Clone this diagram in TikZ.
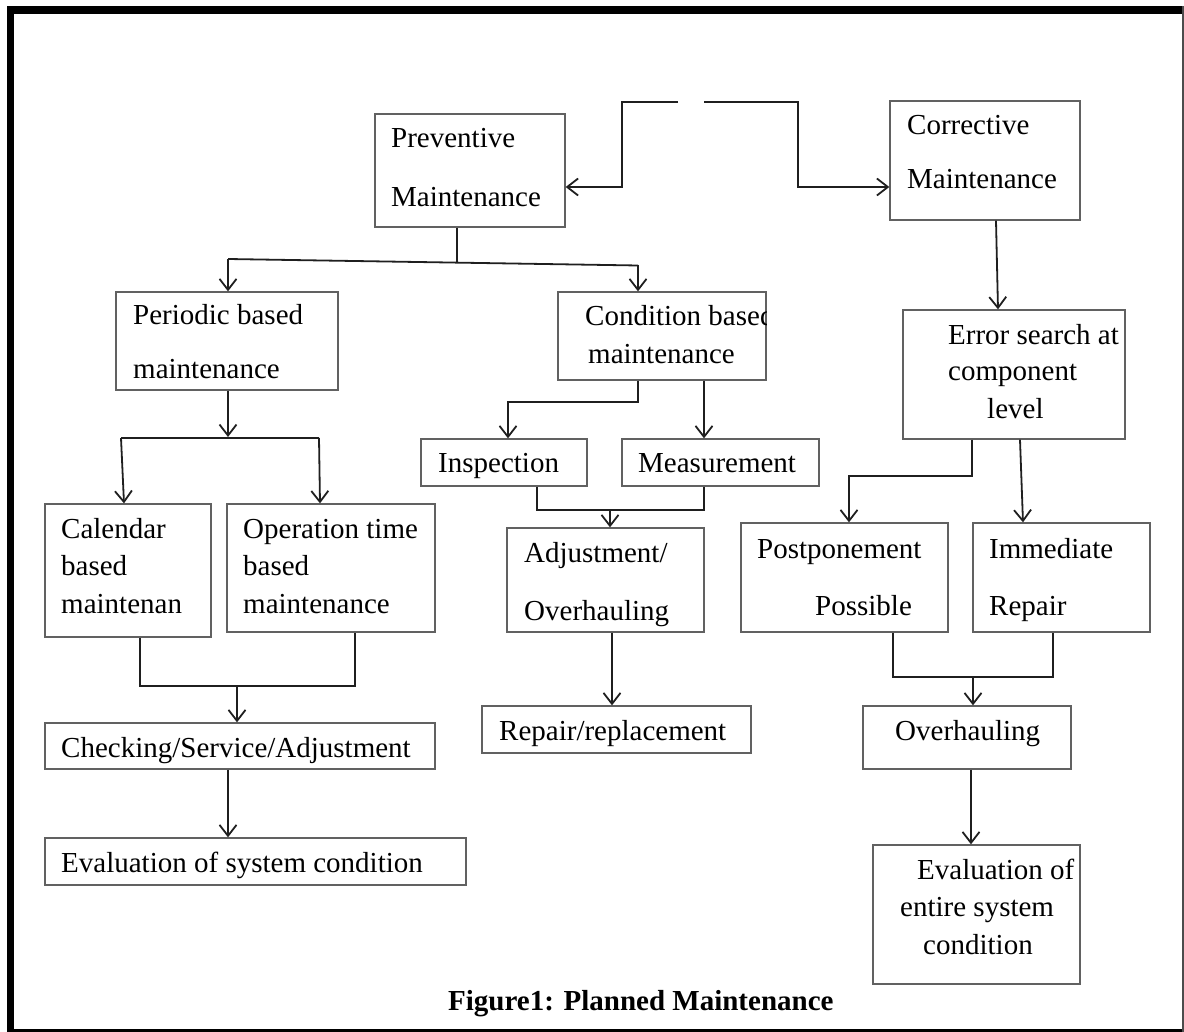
\documentclass[tikz,border=0pt]{standalone}
\usepackage{fontspec}
\setmainfont{Liberation Serif}
\usetikzlibrary{arrows.meta,fit}
\tikzset{
  box/.style={draw=black!62,line width=1.3pt,inner sep=0pt,rectangle},
  txt/.style={anchor=base west,inner sep=0pt,font=\fontsize{29}{34}\selectfont},
  conn/.style={draw=black!88,line width=1.8pt},
  arr/.style={conn,-{Straight Barb[length=11pt,width=17pt]}},
}
\begin{document}
\begin{tikzpicture}[x=1pt,y=-1pt]
\useasboundingbox (0,0) rectangle (1184,1032);
% frame
\fill[black] (7,6) rectangle (1184,14);
\fill[black] (7,6) rectangle (14,1032);
\fill[black] (7,1029) rectangle (1184,1032);
\fill[black!70] (1181.5,6) rectangle (1184,1032);
% boxes
\node[box,fit={(375,114) (565,227)}] (prev) {};
\node[box,fit={(890,101) (1080,220)}] (corr) {};
\node[box,fit={(903,310) (1125,439)}] (err) {};
\node[box,fit={(116,292) (338,390)}] (per) {};
\node[box,fit={(558,292) (766,380)}] (cond) {};
\node[box,fit={(45,504) (211,637)}] (cal) {};
\node[box,fit={(227,504) (435,632)}] (opt) {};
\node[box,fit={(45,723) (435,769)}] (chk) {};
\node[box,fit={(45,838) (466,885)}] (evs) {};
\node[box,fit={(421,439) (587,486)}] (insp) {};
\node[box,fit={(622,439) (819,486)}] (meas) {};
\node[box,fit={(507,528) (704,632)}] (adj) {};
\node[box,fit={(482,706) (751,753)}] (rep) {};
\node[box,fit={(741,523) (948,632)}] (post) {};
\node[box,fit={(973,523) (1150,632)}] (imm) {};
\node[box,fit={(863,706) (1071,769)}] (ovh) {};
\node[box,fit={(873,845) (1080,984)}] (eve) {};
% texts
\node[txt] (prev1) at (391,148) {Preventive};
\node[txt] (prev2) at (391,207) {Maintenance};
\node[txt] (corr1) at (907,135) {Corrective};
\node[txt] (corr2) at (907,189) {Maintenance};
\node[txt] (err1) at (948,345) {Error search at};
\node[txt] (err2) at (948,381) {component};
\node[txt] (err3) at (987,418) {level};
\node[txt] (per1) at (133,325) {Periodic based};
\node[txt] (per2) at (133,379) {maintenance};
\begin{scope}
\clip (558,292) rectangle (766,380);
\node[txt] (cond1) at (585,326) {Condition based};
\end{scope}
\node[txt] (cond2) at (588,363) {maintenance};
\node[txt] (cal1) at (61,538) {Calendar};
\node[txt] (cal2) at (61,575) {based};
\node[txt] (cal3) at (61,613) {maintenan};
\node[txt] (opt1) at (243,538) {Operation time};
\node[txt] (opt2) at (243,575) {based};
\node[txt] (opt3) at (243,613) {maintenance};
\node[txt] (chk1) at (61,757) {Checking/Service/Adjustment};
\node[txt] (evs1) at (61,872) {Evaluation of system condition};
\node[txt] (insp1) at (438,472) {Inspection};
\node[txt] (meas1) at (638,472) {Measurement};
\node[txt] (adj1) at (524,562) {Adjustment/};
\node[txt] (adj2) at (524,620) {Overhauling};
\node[txt] (rep1) at (499,740) {Repair/replacement};
\node[txt] (post1) at (757,558) {Postponement};
\node[txt] (post2) at (815,615) {Possible};
\node[txt] (imm1) at (989,558) {Immediate};
\node[txt] (imm2) at (989,615) {Repair};
\node[txt] (ovh1) at (895,740) {Overhauling};
\node[txt] (eve1) at (917,879) {Evaluation of};
\node[txt] (eve2) at (900,916) {entire system};
\node[txt] (eve3) at (923,954) {condition};
\node[txt,font=\fontsize{29}{34}\selectfont\bfseries] (cap) at (448,1010) {Figure1: Planned Maintenance};
% connectors
\coordinate (tl) at (678,102);
\coordinate (tr) at (704,102);
\draw[arr] (tl) -- (622,102) -- (622,187) -- (prev.east |- 0,187);
\draw[arr] (tr) -- (798,102) -- (798,187) -- (corr.west |- 0,187);
\draw[arr] (corr.south -| 996,0) -- (err.north -| 998,0);
\coordinate (pl) at (228,259);
\coordinate (pr) at (638,265.5);
\draw[conn] (prev.south -| 457,0) -- (457,262);
\draw[conn] (pl) -- (pr);
\draw[arr] (pl) -- (per.north -| pl);
\draw[arr] (pr) -- (cond.north -| pr);
\draw[arr] (per.south -| 228,0) -- (228,437);
\coordinate (ql) at (121,438);
\coordinate (qr) at (319,438);
\draw[conn] (ql) -- (qr);
\draw[arr] (ql) -- (cal.north -| 124,0);
\draw[arr] (qr) -- (opt.north -| 320,0);
\draw[conn] (cal.south -| 140,0) -- (140,686) -- (355,686) -- (opt.south -| 355,0);
\draw[arr] (237,686) -- (chk.north -| 237,0);
\draw[arr] (chk.south -| 228,0) -- (evs.north -| 228,0);
\draw[arr] (cond.south -| 638,0) -- (638,402) -- (508,402) -- (insp.north -| 508,0);
\draw[arr] (cond.south -| 704,0) -- (meas.north -| 704,0);
\draw[conn] (insp.south -| 537,0) -- (537,510) -- (704,510) -- (meas.south -| 704,0);
\draw[arr] (610,510) -- (adj.north -| 610,0);
\draw[arr] (adj.south -| 612,0) -- (rep.north -| 612,0);
\draw[arr] (err.south -| 972,0) -- (972,476) -- (849,476) -- (post.north -| 849,0);
\draw[arr] (err.south -| 1020,0) -- (imm.north -| 1023,0);
\draw[conn] (post.south -| 893,0) -- (893,677) -- (1053,677) -- (imm.south -| 1053,0);
\draw[arr] (973,677) -- (ovh.north -| 973,0);
\draw[arr] (ovh.south -| 971,0) -- (eve.north -| 971,0);
\end{tikzpicture}
\end{document}
